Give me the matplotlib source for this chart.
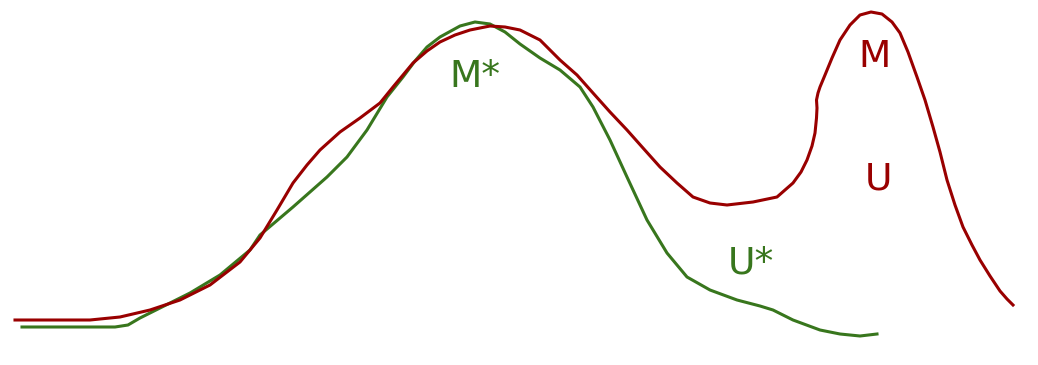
import numpy as np
import matplotlib.pyplot as plt

# curves (pixel coords, y down)
red_x = [15, 50, 90, 120, 150, 180, 210, 240, 260, 277, 293, 307, 320, 340, 360, 380, 393,
         403, 413, 427, 440, 455, 470, 490, 505, 520, 540, 560, 577, 593, 610, 627, 643, 660,
         677, 693, 710, 727, 753, 777, 793, 801, 807, 812, 815, 816.5, 817, 816.5, 818, 820, 825,
         832, 840, 850, 860, 871, 882, 892, 900, 908, 917, 925, 933, 940, 947, 955, 963, 972,
         980, 990, 1000, 1007, 1013]
red_y = [320, 320, 320, 317, 310, 300, 285, 262, 238, 210, 183, 165, 150, 132, 118, 103, 87,
         75, 63, 51, 42, 35, 30, 26, 27, 30, 40, 60, 75, 93, 112, 130, 148, 167,
         183, 197, 203, 205, 202, 197, 183, 172, 160, 146, 133, 118, 108, 100, 93, 87, 75,
         58, 40, 25, 15, 12, 14, 22, 33, 52, 77, 100, 127, 152, 180, 205, 227, 245,
         260, 276, 291, 299, 305]

green_x = [22, 60, 100, 115, 128, 140, 160, 190, 220, 250, 260, 293, 327, 347, 367, 387, 403,
           415, 427, 440, 460, 475, 490, 505, 520, 540, 560, 580, 593, 610, 627, 647, 667, 687,
           710, 737, 760, 773, 793, 820, 840, 860, 877]
green_y = [327, 327, 327, 327, 325, 318, 308, 293, 275, 250, 235, 207, 177, 157, 130, 97, 77,
           61, 47, 37, 26, 22, 24, 32, 44, 58, 70, 87, 107, 140, 177, 220, 253, 277,
           290, 300, 306, 310, 320, 330, 334, 336, 334]

labels = ["M*", "U*", "M", "U"]
label_x = [475, 751, 874, 878]
label_y = [77, 263, 57, 179]
label_c = ["#38761d", "#38761d", "#990000", "#990000"]

fig = plt.figure(figsize=(10.38, 3.65), dpi=100)
ax = fig.add_axes([0, 0, 1, 1])
ax.plot(green_x, green_y, color="#38761d", lw=2.2, solid_joinstyle="round")
ax.plot(red_x, red_y, color="#990000", lw=2.2, solid_joinstyle="round")
for t, x, y, c in zip(labels, label_x, label_y, label_c):
    ax.text(x, y, t, color=c, fontsize=27, ha="center", va="center", family="DejaVu Sans")
ax.set_xlim(0, 1038)
ax.set_ylim(365, 0)
ax.axis("off")
fig.savefig("out.png", dpi=100)
